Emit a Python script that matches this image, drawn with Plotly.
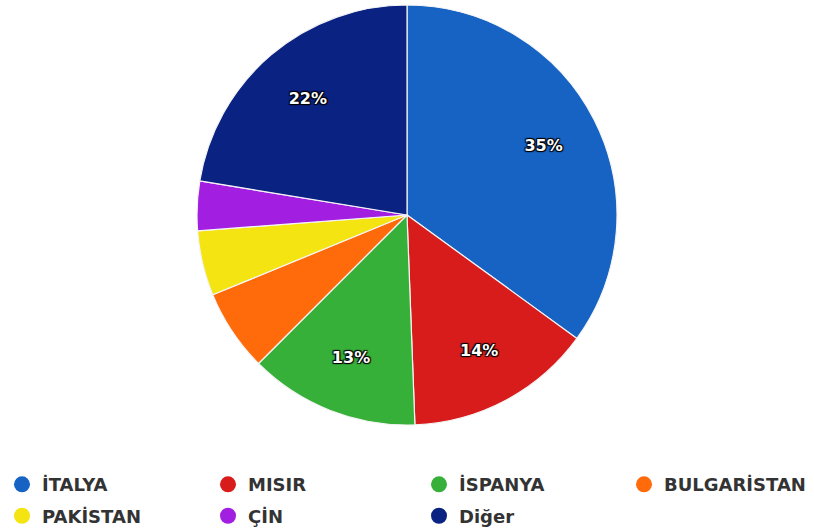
import plotly.graph_objects as go

categories = ["İTALYA", "MISIR", "İSPANYA", "BULGARİSTAN", "PAKİSTAN", "ÇİN", "Diğer"]
values = [35.0, 14.4, 13.1, 6.3, 5.0, 3.8, 22.4]
colors = ["#1763c4", "#d81c1c", "#37b03a", "#ff6a0a", "#f4e412", "#a21fe2", "#0a2282"]
# legend column (0-3) for each category, two rows
legend_cols = [0, 1, 2, 3, 0, 1, 2]

total = sum(values)
texts = [f"{round(v / total * 100)}%" if v / total >= 0.10 else "" for v in values]

fig = go.Figure()
fig.add_trace(go.Pie(
    labels=categories,
    values=values,
    textinfo="none",
    sort=False,
    direction="clockwise",
    rotation=0,
    marker=dict(colors=colors, line=dict(color="#f4f4f4", width=1.2)),
    showlegend=False,
    hoverinfo="label+percent",
    domain=dict(x=[0, 1], y=[0, 1]),
))
fig.add_trace(go.Pie(
    labels=categories,
    values=values,
    text=texts,
    textinfo="text",
    textposition="inside",
    insidetextorientation="horizontal",
    hole=0.46,
    sort=False,
    direction="clockwise",
    rotation=0,
    marker=dict(colors=["rgba(0,0,0,0)"] * len(values), line=dict(width=0)),
    textfont=dict(family="DejaVu Sans", size=16, color="white", weight="bold",
                  shadow="1px 1px 1px #000, -1px -1px 1px #000, 1px -1px 1px #000, -1px 1px 1px #000"),
    showlegend=False,
    hoverinfo="skip",
    domain=dict(x=[0, 1], y=[0, 1]),
))

legend_ids = ["legend", "legend2", "legend3", "legend4"]
for name, col, lc in zip(categories, colors, legend_cols):
    fig.add_trace(go.Scatter(
        x=[None], y=[None], mode="markers", name=name,
        marker=dict(symbol="circle", size=18, color=col),
        showlegend=True, hoverinfo="skip",
        legend=legend_ids[lc], legendgroup=name,
    ))

legend_x_px = [2, 208, 419, 624]
leg_common = dict(
    orientation="v", xanchor="left", y=-0.098, yanchor="top",
    font=dict(family="DejaVu Sans", size=18, color="#333333", weight="bold"),
    tracegroupgap=5, itemsizing="trace", bgcolor="rgba(0,0,0,0)",
)
legend_layout = {}
for lid, px in zip(legend_ids, legend_x_px):
    legend_layout[lid] = dict(x=px / 814, **leg_common)

fig.update_layout(
    width=814, height=528,
    margin=dict(l=0, r=0, t=5, b=103, autoexpand=False),
    paper_bgcolor="white", plot_bgcolor="white",
    xaxis=dict(visible=False), yaxis=dict(visible=False),
    **legend_layout,
)

fig.write_html("out.html", config={"displayModeBar": False},
               post_script="document.body.style.margin='0px';")
